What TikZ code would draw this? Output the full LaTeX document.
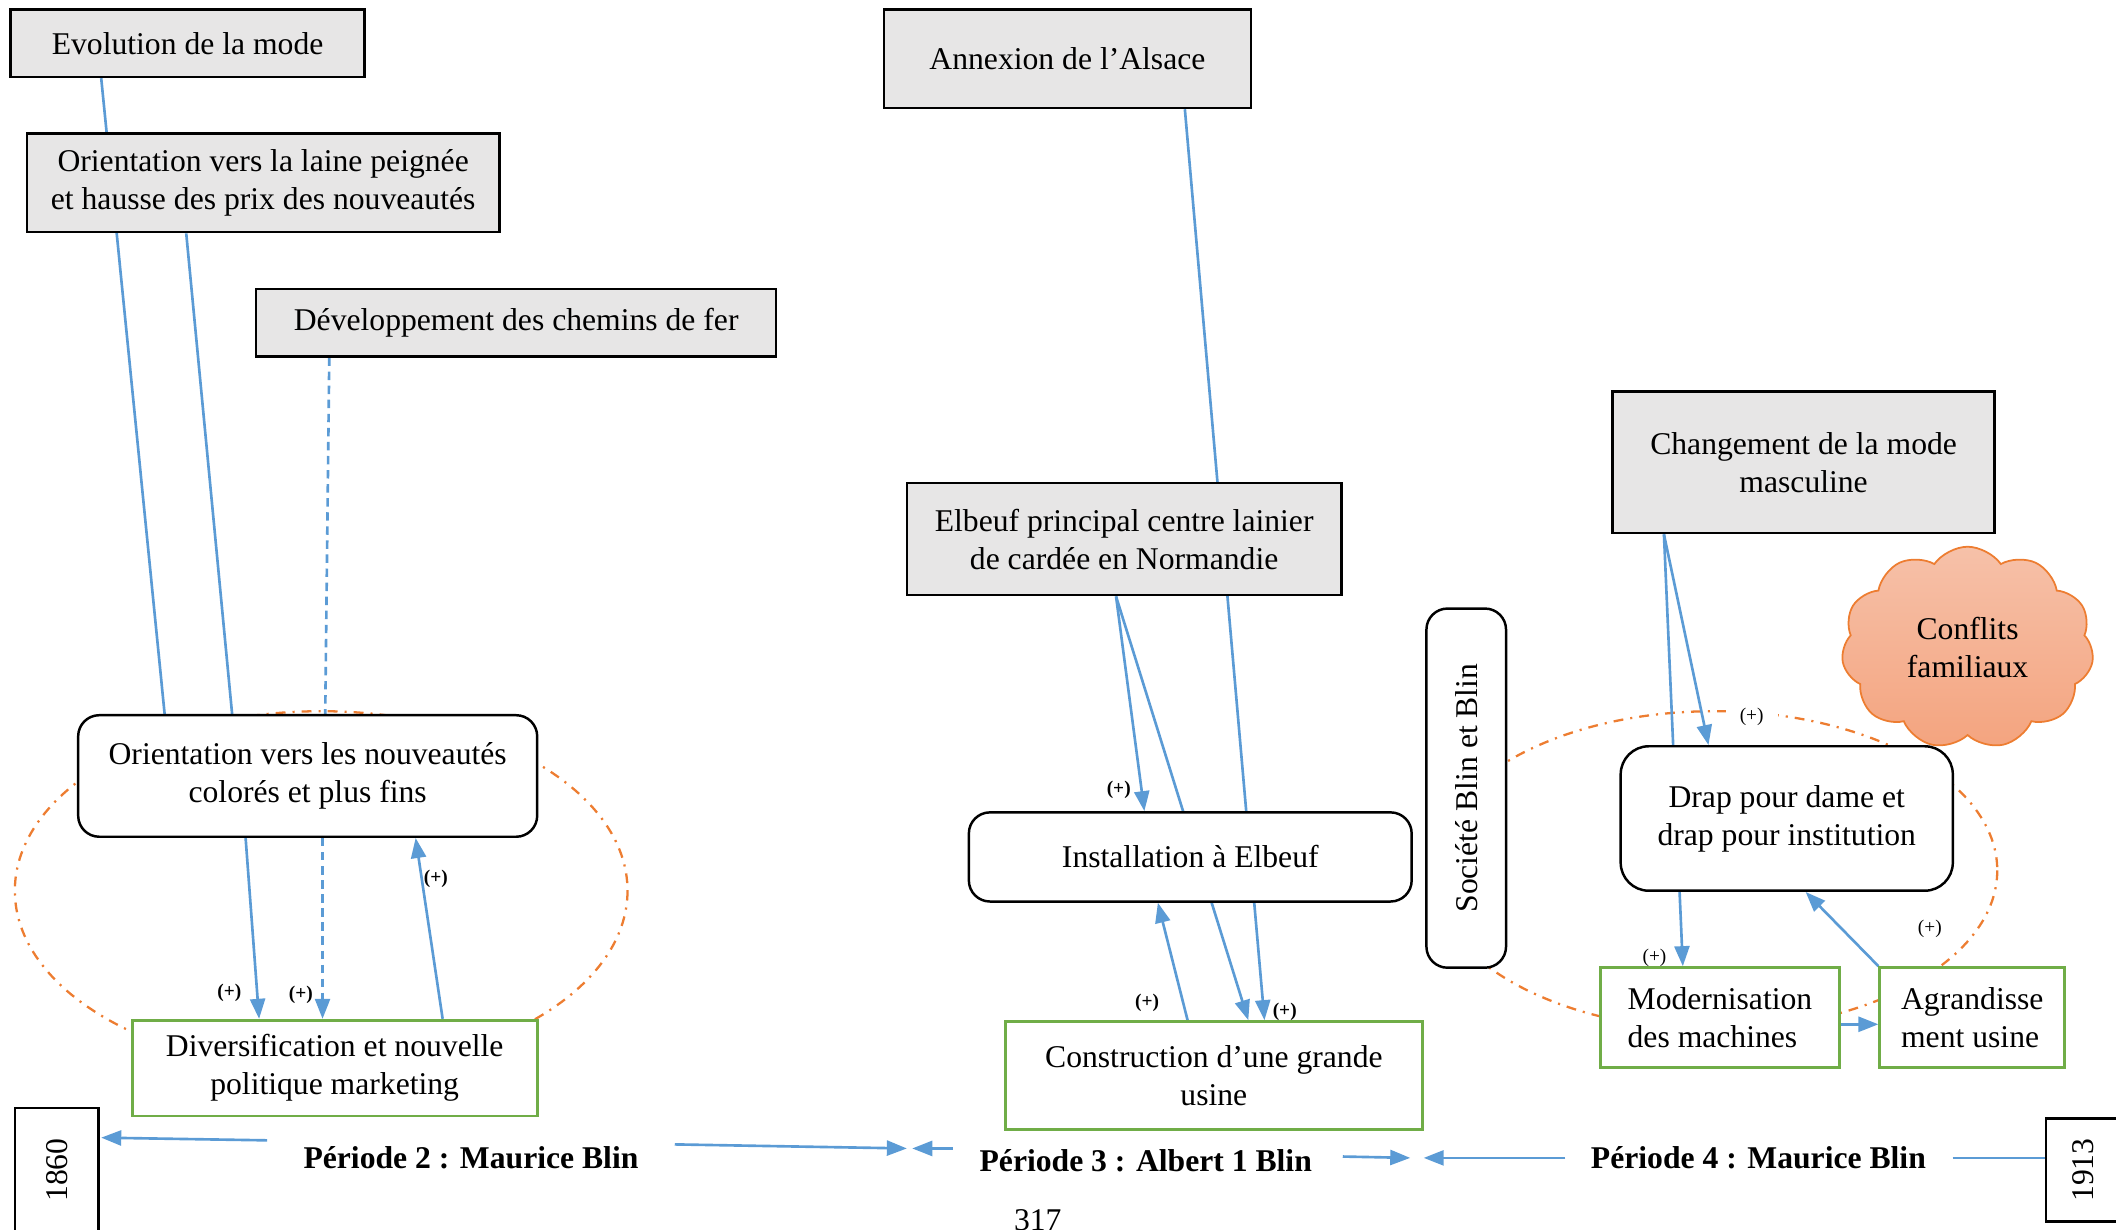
\documentclass[tikz,border=0pt]{standalone}
\usepackage{fontspec}
\setmainfont{Liberation Serif}
\usetikzlibrary{arrows.meta,calc,shapes.symbols}
\definecolor{bleulien}{HTML}{5B9BD5}
\definecolor{orangeboucle}{HTML}{ED7D31}
\definecolor{vertaction}{HTML}{70AD47}
\definecolor{grisfacteur}{HTML}{E7E6E6}
\definecolor{nuagehaut}{HTML}{F6C1A9}
\definecolor{nuagebas}{HTML}{F4A47F}
\pgfdeclarelayer{fond}
\pgfsetlayers{fond,main}

\begin{document}
\begin{tikzpicture}[x=0.013495cm,y=-0.013495cm,font=\fontsize{9}{10.8}\selectfont,
    facteur/.style={draw,line width=.7pt,fill=grisfacteur,align=center,inner sep=0pt},
    etat/.style={draw,line width=.7pt,fill=white,rounded corners=6pt,align=center,inner sep=0pt},
    action/.style={draw=vertaction,line width=.8pt,fill=white,align=center,inner sep=0pt},
    annee/.style={draw,line width=.7pt,fill=white,rotate=90,inner sep=0pt},
    periode/.style={font=\fontsize{9}{10.8}\selectfont\bfseries},
    lien/.style={draw=bleulien,line width=.75pt},
    fleche/.style={lien,-{Triangle[length=.2cm,width=.15cm]}},
    tirets/.style={dash pattern=on 2.4pt off 1.6pt},
    plus/.style={font=\fontsize{5.5}{6}\selectfont\bfseries,inner sep=.5pt},
    plusfin/.style={font=\fontsize{5.5}{6}\selectfont,inner sep=.5pt},
    boucle/.style={draw=orangeboucle,line width=.65pt,dash pattern=on 2.8pt off 2pt on .6pt off 2pt}]
  \useasboundingbox (0,0) rectangle (1568,911);

  \node[facteur,minimum width=3.536cm,minimum height=.675cm] (evol) at (139,32) {Evolution de la mode};
  \node[facteur,minimum width=4.723cm,minimum height=.985cm] (laine) at (195,135.5) {Orientation vers la laine peignée\\et hausse des prix des nouveautés};
  \node[facteur,minimum width=5.196cm,minimum height=.675cm] (fer) at (382.5,239) {Développement des chemins de fer};
  \node[facteur,minimum width=3.671cm,minimum height=.985cm] (alsace) at (791,43.5) {Annexion de l’Alsace};
  \node[facteur,minimum width=4.345cm,minimum height=1.12cm] (elbeuf) at (833,399.5) {Elbeuf principal centre lainier\\de cardée en Normandie};
  \node[facteur,minimum width=3.819cm,minimum height=1.417cm] (mode) at (1336.5,342.5) {Changement de la mode\\masculine};
  \node[cloud,cloud puffs=11,cloud puff arc=110,aspect=1.25,draw=orangeboucle,line width=.5pt,
    top color=nuagehaut,bottom color=nuagebas,minimum width=2.52cm,minimum height=2.02cm,
    inner sep=0pt,align=center] (conflits) at (1458,480) {Conflits\\familiaux};

  \node[etat,minimum width=4.588cm,minimum height=1.215cm] (nouv) at (228,575) {Orientation vers les nouveautés\\colorés et plus fins};
  \node[action,minimum width=4.049cm,minimum height=.958cm] (divers) at (248,791.5) {Diversification et nouvelle\\politique marketing};
  \node[etat,minimum width=4.426cm,minimum height=.891cm] (install) at (882,635) {Installation à Elbeuf};
  \node[action,minimum width=4.17cm,minimum height=1.08cm] (usine) at (899.5,797) {Construction d’une grande\\usine};
  \node[etat,rotate=90,minimum width=3.59cm,minimum height=.796cm] (societe) at (1086.5,584) {Société Blin et Blin};
  \node[etat,rounded corners=8pt,minimum width=3.32cm,minimum height=1.444cm] (drap) at (1324,606.5) {Drap pour dame et\\drap pour institution};
  \node[action,align=left,minimum width=2.389cm,minimum height=.999cm] (machines) at (1274.5,754) {Modernisation\\des machines};
  \node[action,align=left,minimum width=1.849cm,minimum height=.999cm] (agrand) at (1461.5,754) {Agrandisse\\ment usine};

  \node[annee,minimum width=1.24cm,minimum height=.837cm] (debut) at (42,867) {1860};
  \node[annee,minimum width=1.026cm,minimum height=.756cm] (fin) at (1544,867) {1913};
  \node[periode] (p2) at (349,858) {Période 2 : Maurice Blin};
  \node[periode] (p3) at (849,860) {Période 3 : Albert 1 Blin};
  \node[periode] (p4) at (1303,858) {Période 4 : Maurice Blin};
  \node[anchor=base] (page) at (769,912) {317};

  \begin{pgfonlayer}{fond}
    \draw[boucle] (238,660) ellipse [x radius=227,y radius=133];
    \draw[boucle] (1270,645) ellipse [x radius=210,y radius=118];

    \draw[lien] ($(evol.south)+(-64,0)$) -- ($(nouv.north)+(-106,0)$);
    \draw[lien] ($(laine.south)+(-57,0)$) -- ($(nouv.north)+(-56,0)$);
    \draw[lien,tirets] ($(fer.south)+(-138.5,0)$) -- ($(nouv.north)+(13,0)$);
    \draw[fleche] ($(nouv.south)+(-46,0)$) -- ($(divers.north)+(-56,0)$);
    \draw[fleche,tirets] ($(nouv.south)+(11,0)$) -- ($(divers.north)+(-9,0)$);
    \draw[fleche] ($(divers.north)+(80,0)$) -- ($(nouv.south)+(80,0)$);

    \draw[fleche] ($(alsace.south)+(87,0)$) -- ($(usine.north)+(37.5,0)$);
    \draw[fleche] ($(elbeuf.south)+(-6,0)$) -- ($(install.north)+(-34,0)$);
    \draw[fleche] ($(elbeuf.south)+(-6,0)$) -- ($(usine.north)+(25.5,0)$);
    \draw[fleche] ($(usine.north)+(-19.5,0)$) -- ($(install.south)+(-24,0)$);

    \draw[fleche] ($(mode.south)+(-103.5,0)$) -- ($(machines.north)+(-27.5,0)$);
    \draw[fleche] ($(mode.south)+(-103.5,0)$) -- ($(drap.north)+(-58,0)$);
    \draw[fleche] (agrand.north west) -- ($(drap.south)+(14,0)$);
    \draw[fleche] ($(machines.east)+(0,5)$) -- ($(agrand.west)+(0,5)$);

    \draw[fleche] ($(p2.center)+(-151,-13)$) -- ($(debut.center)+(33,-24)$);
    \draw[fleche] ($(p2.center)+(151,-10)$) -- ($(p3.center)+(-177,-9)$);
    \draw[fleche] ($(p3.center)+(-143,-9)$) -- ($(p3.center)+(-173,-9)$);
    \draw[fleche] ($(p3.center)+(146,-3)$) -- ($(p4.center)+(-258,0)$);
    \draw[fleche] ($(p4.center)+(-143,0)$) -- ($(p4.center)+(-248,0)$);
    \draw[lien] ($(p4.center)+(144,0)$) -- ($(fin.center)+(-29,-9)$);
  \end{pgfonlayer}

  \node[plus] (s1) at (170,736) {(+)};
  \node[plus] (s2) at (223,737) {(+)};
  \node[plus] (s3) at (323,651) {(+)};
  \node[plus] (s4) at (952,750) {(+)};
  \node[plus] (s5) at (829,585) {(+)};
  \node[plus] (s6) at (850,743) {(+)};
  \node[plusfin] (s7) at (1226,710) {(+)};
  \node[plusfin,fill=white,inner xsep=4pt] (s8) at (1298,531) {(+)};
  \node[plusfin] (s9) at (1430,688) {(+)};
\end{tikzpicture}
\end{document}
